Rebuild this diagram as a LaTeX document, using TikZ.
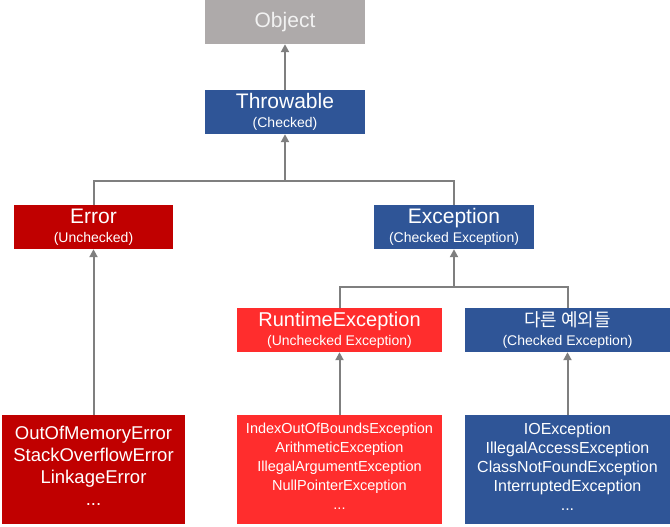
\documentclass[tikz,border=0pt]{standalone}
\usepackage{fontspec}
\setmainfont{Liberation Sans}
\newfontfamily\kofont{Noto Sans CJK KR}
\usetikzlibrary{arrows.meta,positioning}
\definecolor{objgray}{HTML}{AEAAAA}
\definecolor{javablue}{HTML}{2F5597}
\definecolor{darkred}{HTML}{C00000}
\definecolor{brightred}{HTML}{FF2D2D}
\definecolor{linegray}{HTML}{7F7F7F}
\newcommand{\subtxt}[1]{{\fontsize{14}{16}\selectfont #1}}

\begin{document}
\begin{tikzpicture}[x=1pt, y=-1pt,
		B/.style = {rectangle, align=center, inner sep=0pt, minimum height=44pt,
			text=white, font=\fontsize{21}{19}\selectfont},
		L/.style = {rectangle, inner sep=0pt, minimum height=109pt, text=white},
		arr/.style = {-{Triangle[width=8pt,length=8pt]}, draw=linegray, line width=2pt},
		bus/.style = {draw=linegray, line width=2pt}
		]
		\useasboundingbox (0,0) rectangle (670,527);
		\begin{scope}[nodes=B]
			\node[fill=objgray, text=white!95!black, minimum width=160pt] (object) at (285,22) {Object};
			\node[fill=javablue, minimum width=160pt] (throwable) at (285,112) {Throwable\\\subtxt{(Checked)}};
			\node[fill=darkred, minimum width=159pt] (error) at (93.5,227) {Error\\\subtxt{(Unchecked)}};
			\node[fill=javablue, minimum width=160pt] (exception) at (454,227) {Exception\\\subtxt{(Checked Exception)}};
			\node[fill=brightred, minimum width=205pt] (runtime) at (339.5,330) {{\fontsize{20}{19}\selectfont RuntimeException}\\\subtxt{(Unchecked Exception)}};
			\node[fill=javablue, minimum width=205pt] (others) at (567.5,330) {{\kofont\fontsize{18}{19}\selectfont 다른 예외들}\\\subtxt{(Checked Exception)}};
		\end{scope}
		
		\begin{scope}[nodes=L]
			\node[fill=darkred, minimum width=183pt] (errlist) at (93.5,469.5)
			{\parbox[c][87pt][t]{180pt}{\centering\fontsize{18.5}{22}\selectfont
					OutOfMemoryError\\StackOverflowError\\LinkageError\\...}};
			\node[fill=brightred, minimum width=205pt] (rtlist) at (339.5,469.5)
			{\parbox[c][93pt][t]{200pt}{\centering\fontsize{14.5}{19}\selectfont
					IndexOutOfBoundsException\\ArithmeticException\\IllegalArgumentException\\NullPointerException\\...}};
			\node[fill=javablue, minimum width=205pt] (chklist) at (567.5,469.5)
			{\parbox[c][93pt][t]{200pt}{\centering\fontsize{16}{19}\selectfont
					IOException\\IllegalAccessException\\ClassNotFoundException\\InterruptedException\\...}};
		\end{scope}
		
		\coordinate (top bus) at (285,181);
		\coordinate (mid bus) at (454,287);
		
		\draw[bus] (error.north) |- (top bus) -| (exception.north);
		\draw[bus] (runtime.north) |- (mid bus) -| (others.north);
		
		\draw (throwable) edge[arr] (object);
		\draw (top bus) edge[arr] (throwable.south);
		\draw (mid bus) edge[arr] (exception.south);
		\draw (errlist) edge[arr] (error);
		\draw (rtlist) edge[arr] (runtime);
		\draw (chklist) edge[arr] (others);
	\end{tikzpicture}
\end{document}
